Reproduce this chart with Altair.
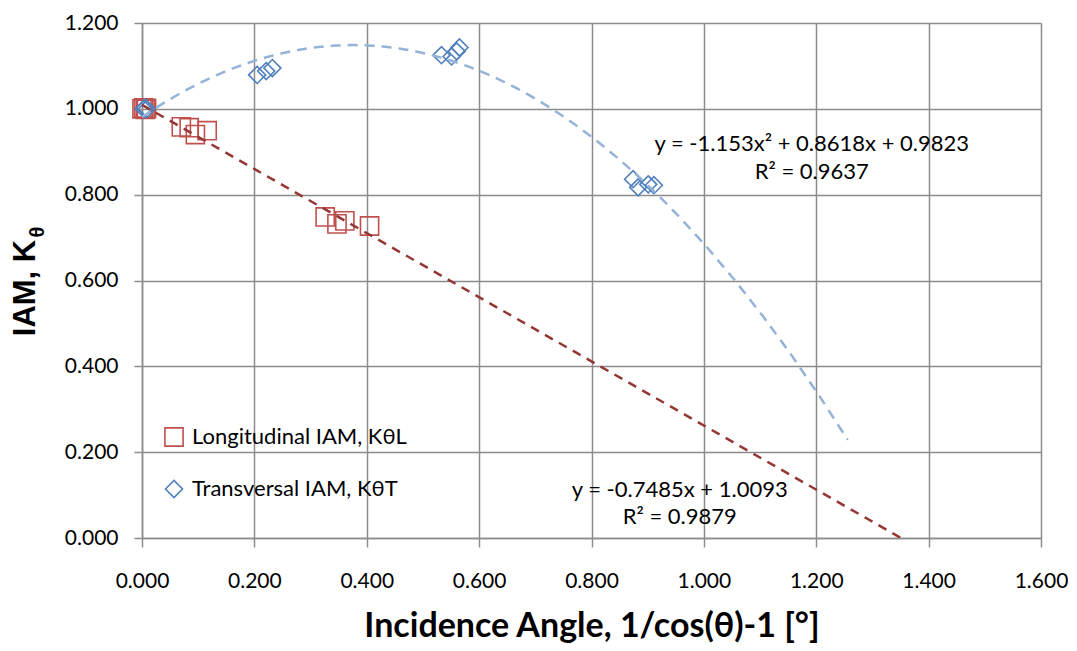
import altair as alt
import pandas as pd

# Longitudinal IAM, KθL (open squares)
long_x = [0.000, 0.003, 0.006, 0.008, 0.070, 0.084, 0.095, 0.116, 0.326, 0.347, 0.361, 0.405]
long_y = [1.000, 1.002, 0.999, 1.001, 0.958, 0.956, 0.940, 0.949, 0.748, 0.732, 0.739, 0.727]

# Transversal IAM, KθT (open diamonds)
trans_x = [0.003, 0.006, 0.008, 0.205, 0.221, 0.232, 0.533, 0.551, 0.560, 0.565, 0.874, 0.883, 0.901, 0.911]
trans_y = [1.000, 1.003, 0.999, 1.079, 1.088, 1.095, 1.125, 1.122, 1.134, 1.143, 0.836, 0.817, 0.824, 0.822]

series_names = ["Longitudinal IAM, KθL", "Transversal IAM, KθT"]
series_colors = ["#C0504D", "#4F81BD"]
trend_colors = ["#943634", "#95B3D7"]

x_ticks = [0.0, 0.2, 0.4, 0.6, 0.8, 1.0, 1.2, 1.4, 1.6]
y_ticks = [0.0, 0.2, 0.4, 0.6, 0.8, 1.0, 1.2]

eq_text = ["y = -1.153x² + 0.8618x + 0.9823", "R² = 0.9637",
           "y = -0.7485x + 1.0093", "R² = 0.9879"]
eq_x = [1.192, 1.192, 0.957, 0.957]
eq_y = [0.919, 0.852, 0.112, 0.050]

x_title = "Incidence Angle, 1/cos(θ)-1 [°]"
y_title_main = ["IAM, K"]
y_title_sub = ["θ"]

df = pd.DataFrame({
    "x": long_x + trans_x,
    "y": long_y + trans_y,
    "s": [series_names[0]] * len(long_x) + [series_names[1]] * len(trans_x),
})
eq_df = pd.DataFrame({"x": eq_x, "y": eq_y, "t": eq_text})

FONT = "Lato"
TFONT = "Liberation Sans"
GRID = "#8C8C8C"

xs = alt.Scale(domain=[0, 1.6], nice=False, zero=False)
ys = alt.Scale(domain=[0, 1.2], nice=False, zero=False)

xax = alt.Axis(values=x_ticks, format=".3f", title=x_title,
               titleFontSize=34, titleFontWeight="bold", titlePadding=18,
               labelFontSize=21, labelPadding=23, tickSize=9,
               labelFlush=False, labelOverlap=False)
yax = alt.Axis(values=y_ticks, format=".3f", title=None,
               labelFontSize=21, labelPadding=16, tickSize=8,
               labelFlush=False, labelOverlap=False)

base = alt.Chart(df)

points = base.mark_point(filled=False, strokeWidth=1.6, opacity=1).encode(
    x=alt.X("x:Q", scale=xs, axis=xax),
    y=alt.Y("y:Q", scale=ys, axis=yax),
    color=alt.Color("s:N", scale=alt.Scale(domain=series_names, range=series_colors),
                    legend=alt.Legend(orient="none", legendX=21, legendY=403, title=None,
                                      labelFontSize=22, symbolSize=196, symbolStrokeWidth=1.6,
                                      rowPadding=27, labelOffset=7, labelLimit=0)),
    shape=alt.Shape("s:N", scale=alt.Scale(domain=series_names, range=["square", "diamond"]),
                    legend=None),
    size=alt.Size("s:N", scale=alt.Scale(domain=series_names, range=[330, 290]), legend=None),
)

lin = base.transform_filter(alt.datum.s == series_names[0]).transform_regression(
    "x", "y", method="linear", extent=[0, 1.35]
).mark_line(color=trend_colors[0], strokeWidth=2.5, strokeDash=[9, 7], clip=True).encode(
    x=alt.X("x:Q", scale=xs), y=alt.Y("y:Q", scale=ys))

poly = base.transform_filter(alt.datum.s == series_names[1]).transform_regression(
    "x", "y", method="poly", order=2, extent=[0, 1.256]
).mark_line(color=trend_colors[1], strokeWidth=2.5, strokeDash=[10, 7]).encode(
    x=alt.X("x:Q", scale=xs), y=alt.Y("y:Q", scale=ys))

eqs = alt.Chart(eq_df).mark_text(fontSize=22, font=FONT, color="#000000", align="center",
                                 baseline="middle").encode(
    x=alt.X("x:Q", scale=xs), y=alt.Y("y:Q", scale=ys), text="t:N")

ytitle_main = alt.Chart(pd.DataFrame({"t": y_title_main})).mark_text(
    font=TFONT, fontSize=31, fontWeight="bold", angle=270, align="center",
    baseline="middle", color="#000000").encode(
    x=alt.value(-116), y=alt.value(265), text="t:N")
ytitle_sub = alt.Chart(pd.DataFrame({"t": y_title_sub})).mark_text(
    font=TFONT, fontSize=20, fontWeight="bold", angle=270, align="center",
    baseline="middle", color="#000000").encode(
    x=alt.value(-104), y=alt.value(209), text="t:N")

chart = alt.layer(points, lin, poly, eqs, ytitle_main, ytitle_sub).properties(
    width=899, height=515,
    autosize=alt.AutoSizeParams(type="none"),
    padding={"left": 134, "top": 15, "right": 27, "bottom": 105},
    background="white",
).configure_view(stroke=None).configure_axis(
    gridColor=GRID, gridWidth=1.5, domainColor=GRID, domainWidth=1.5,
    tickColor=GRID, tickWidth=1.5, labelColor="#000000", titleColor="#000000",
    labelFont=FONT, titleFont=FONT,
).configure_legend(labelFont=FONT, labelColor="#000000")

chart.save("out.html", embed_options={"renderer": "svg", "actions": False})
